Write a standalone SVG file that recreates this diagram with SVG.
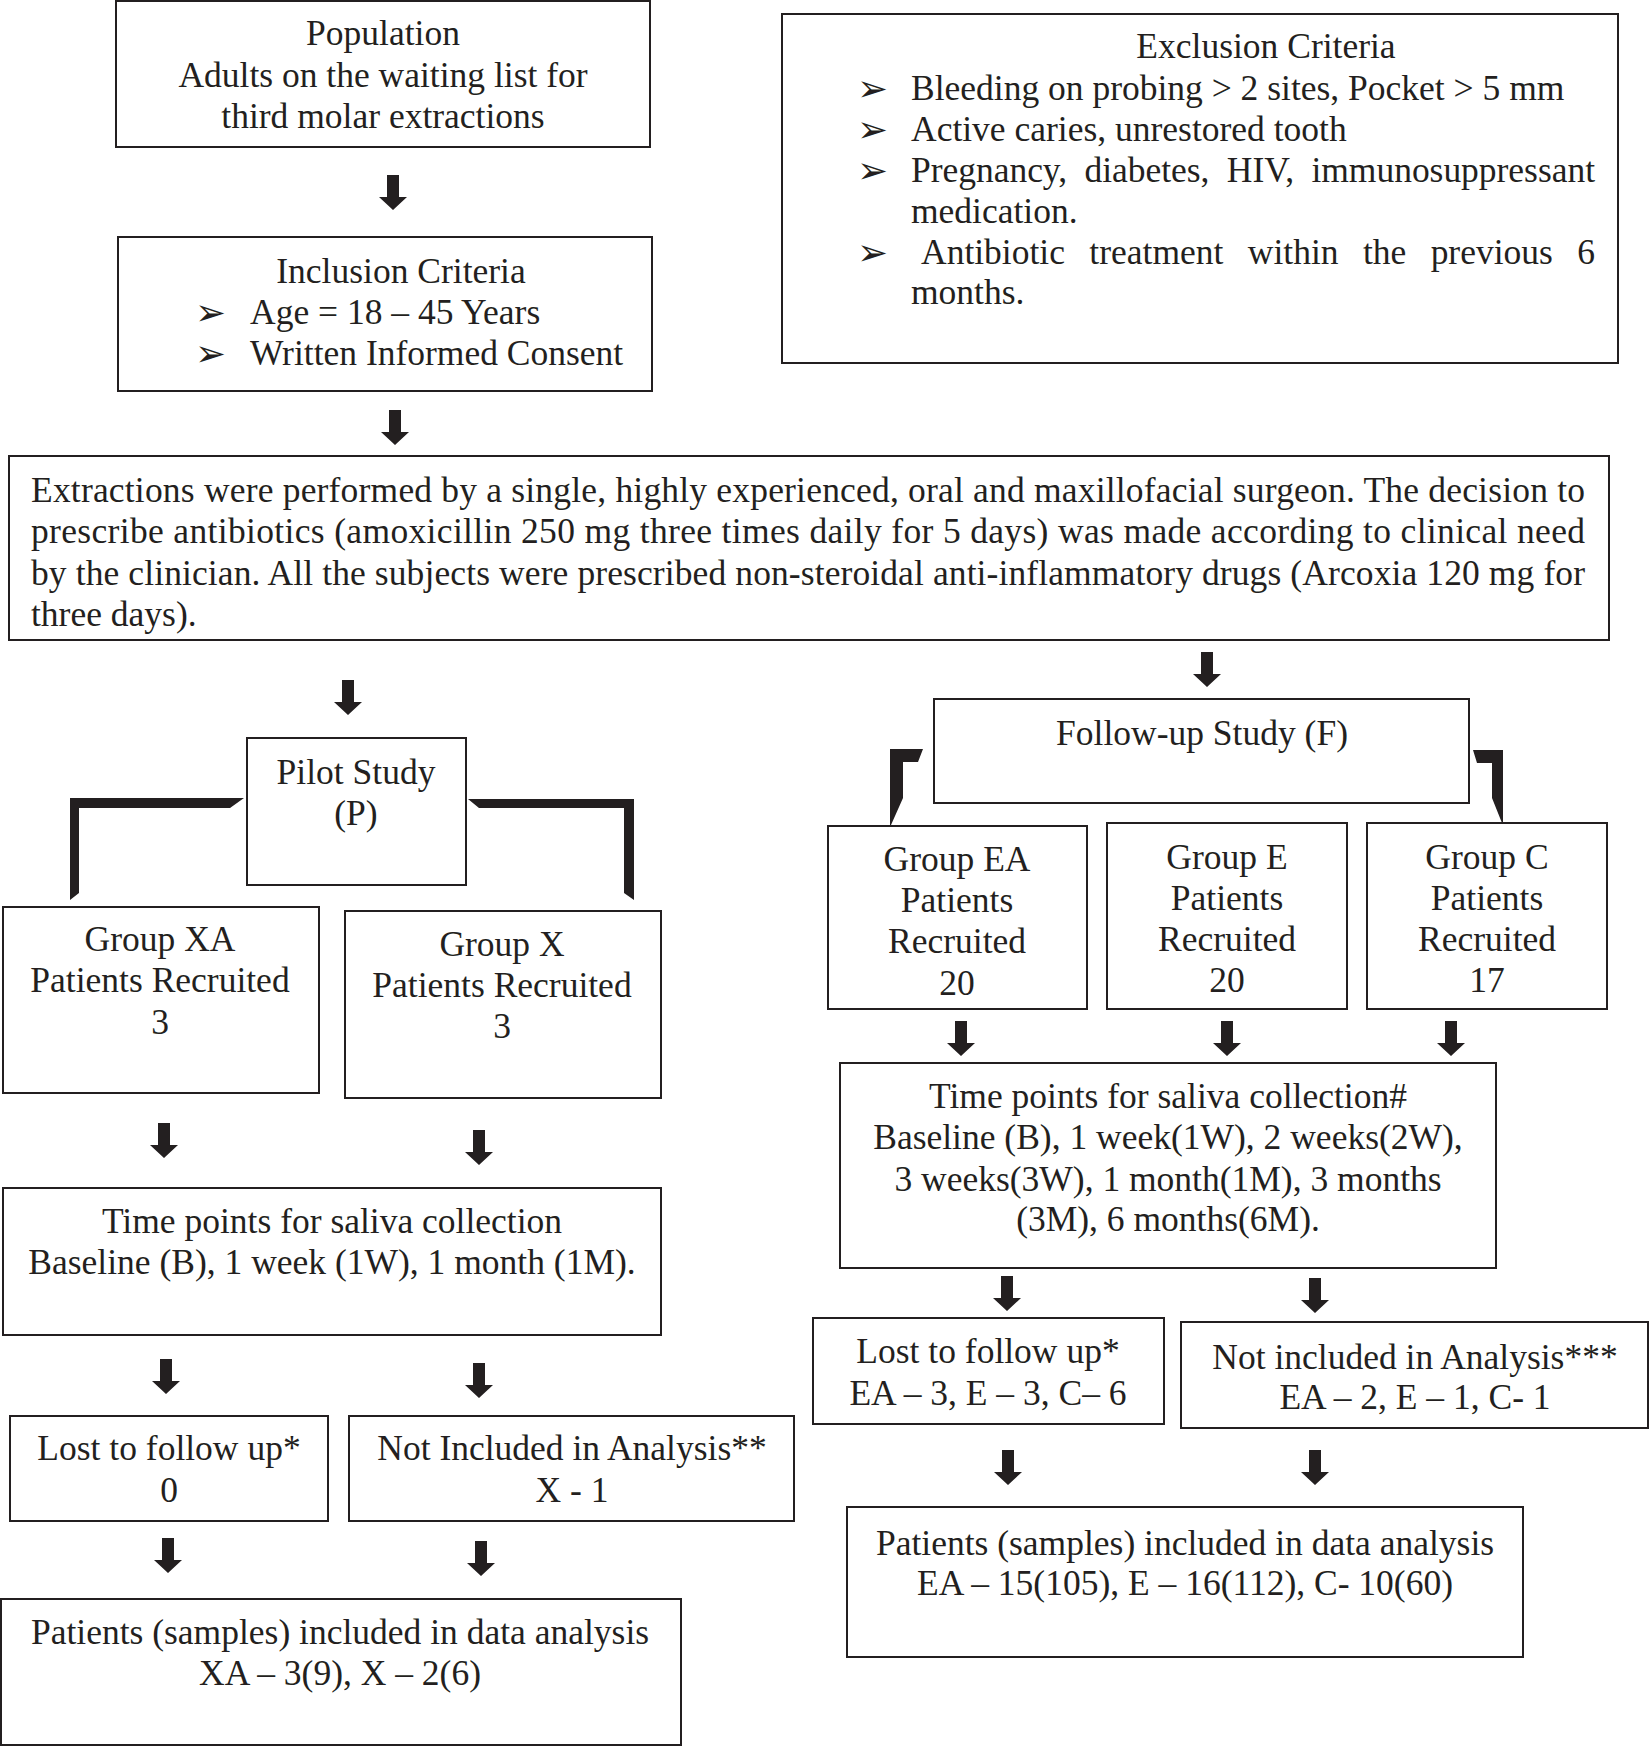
<svg xmlns="http://www.w3.org/2000/svg" xmlns:xlink="http://www.w3.org/1999/xlink" width="1650" height="1747" viewBox="0 0 1650 1747">
<style>
.box{fill:#fff;stroke:#231f20;stroke-width:2}
.t{font-family:"Liberation Serif","Times New Roman",serif;font-size:35.5px;fill:#231f20}
.c{text-anchor:middle}
.b{font-family:"DejaVu Sans",sans-serif;font-size:37px;fill:#231f20}
.k{fill:#231f20}
</style>
<defs>
<path id="arr" d="M-6,0 H6 V22 H14 L0,35 L-14,22 H-6 Z"/>
</defs>
<rect width="1650" height="1747" fill="#fff"/>

<g id="population">
<rect class="box" x="116" y="1" width="534" height="146"/>
<text class="t c" x="383" y="45">Population</text>
<text class="t c" x="383" y="87">Adults on the waiting list for</text>
<text class="t c" x="383" y="128">third molar extractions</text>
</g>

<g id="inclusion">
<rect class="box" x="118" y="237" width="534" height="154"/>
<text class="t c" x="401" y="283">Inclusion Criteria</text>
<text class="b" x="195" y="325">➢</text>
<text class="t" x="250" y="324">Age = 18 – 45 Years</text>
<text class="b" x="195" y="366">➢</text>
<text class="t" x="250" y="365">Written Informed Consent</text>
</g>

<g id="exclusion">
<rect class="box" x="782" y="14" width="836" height="349"/>
<text class="t c" x="1266" y="58">Exclusion Criteria</text>
<text class="b" x="857" y="101">➢</text>
<text class="t" x="911" y="100">Bleeding on probing &gt; 2 sites, Pocket &gt; 5 mm</text>
<text class="b" x="857" y="142">➢</text>
<text class="t" x="911" y="141">Active caries, unrestored tooth</text>
<text class="b" x="857" y="183">➢</text>
<text class="t" x="911" y="182" word-spacing="8.5" textLength="684" lengthAdjust="spacing">Pregnancy, diabetes, HIV, immunosuppressant</text>
<text class="t" x="911" y="223">medication.</text>
<text class="b" x="857" y="265">➢</text>
<text class="t" x="921" y="264" word-spacing="15.5" textLength="674" lengthAdjust="spacing">Antibiotic treatment within the previous 6</text>
<text class="t" x="911" y="304">months.</text>
</g>

<g id="extractions">
<rect class="box" x="9" y="456" width="1600" height="184"/>
<text class="t" x="31" y="502" textLength="1554" lengthAdjust="spacing">Extractions were performed by a single, highly experienced, oral and maxillofacial surgeon. The decision to</text>
<text class="t" x="31" y="543" textLength="1554" lengthAdjust="spacing">prescribe antibiotics (amoxicillin 250 mg three times daily for 5 days) was made according to clinical need</text>
<text class="t" x="31" y="585" textLength="1554" lengthAdjust="spacing">by the clinician. All the subjects were prescribed non-steroidal anti-inflammatory drugs (Arcoxia 120 mg for</text>
<text class="t" x="31" y="626">three days).</text>
</g>

<g id="pilot">
<rect class="box" x="247" y="738" width="219" height="147"/>
<text class="t c" x="356" y="784">Pilot Study</text>
<text class="t c" x="356" y="825">(P)</text>
</g>

<g id="groupXA">
<rect class="box" x="3" y="907" width="316" height="186"/>
<text class="t c" x="160" y="951">Group XA</text>
<text class="t c" x="160" y="992">Patients Recruited</text>
<text class="t c" x="160" y="1034">3</text>
</g>

<g id="groupX">
<rect class="box" x="345" y="911" width="316" height="187"/>
<text class="t c" x="502" y="956">Group X</text>
<text class="t c" x="502" y="997">Patients Recruited</text>
<text class="t c" x="502" y="1038">3</text>
</g>

<g id="timeLeft">
<rect class="box" x="3" y="1188" width="658" height="147"/>
<text class="t c" x="332" y="1233">Time points for saliva collection</text>
<text class="t c" x="332" y="1274">Baseline (B), 1 week (1W), 1 month (1M).</text>
</g>

<g id="lostLeft">
<rect class="box" x="10" y="1416" width="318" height="105"/>
<text class="t c" x="169" y="1460">Lost to follow up*</text>
<text class="t c" x="169" y="1502">0</text>
</g>

<g id="notIncLeft">
<rect class="box" x="349" y="1416" width="445" height="105"/>
<text class="t c" x="572" y="1460">Not Included in Analysis**</text>
<text class="t c" x="572" y="1502">X - 1</text>
</g>

<g id="patientsLeft">
<rect class="box" x="1" y="1599" width="680" height="146"/>
<text class="t c" x="340" y="1644">Patients (samples) included in data analysis</text>
<text class="t c" x="340" y="1685">XA – 3(9), X – 2(6)</text>
</g>

<g id="followup">
<rect class="box" x="934" y="699" width="535" height="104"/>
<text class="t c" x="1202" y="745">Follow-up Study (F)</text>
</g>

<g id="groupEA">
<rect class="box" x="828" y="826" width="259" height="183"/>
<text class="t c" x="957" y="871">Group EA</text>
<text class="t c" x="957" y="912">Patients</text>
<text class="t c" x="957" y="953">Recruited</text>
<text class="t c" x="957" y="995">20</text>
</g>

<g id="groupE">
<rect class="box" x="1107" y="823" width="240" height="186"/>
<text class="t c" x="1227" y="869">Group E</text>
<text class="t c" x="1227" y="910">Patients</text>
<text class="t c" x="1227" y="951">Recruited</text>
<text class="t c" x="1227" y="992">20</text>
</g>

<g id="groupC">
<rect class="box" x="1367" y="823" width="240" height="186"/>
<text class="t c" x="1487" y="869">Group C</text>
<text class="t c" x="1487" y="910">Patients</text>
<text class="t c" x="1487" y="951">Recruited</text>
<text class="t c" x="1487" y="992">17</text>
</g>

<g id="timeRight">
<rect class="box" x="840" y="1063" width="656" height="205"/>
<text class="t c" x="1168" y="1108">Time points for saliva collection#</text>
<text class="t c" x="1168" y="1149">Baseline (B), 1 week(1W), 2 weeks(2W),</text>
<text class="t c" x="1168" y="1191">3 weeks(3W), 1 month(1M), 3 months</text>
<text class="t c" x="1168" y="1231">(3M), 6 months(6M).</text>
</g>

<g id="lostRight">
<rect class="box" x="813" y="1318" width="351" height="106"/>
<text class="t c" x="988" y="1363">Lost to follow up*</text>
<text class="t c" x="988" y="1405">EA – 3, E – 3, C– 6</text>
</g>

<g id="notIncRight">
<rect class="box" x="1181" y="1322" width="467" height="106"/>
<text class="t c" x="1415" y="1369">Not included in Analysis***</text>
<text class="t c" x="1415" y="1409">EA – 2, E – 1, C- 1</text>
</g>

<g id="patientsRight">
<rect class="box" x="847" y="1507" width="676" height="150"/>
<text class="t c" x="1185" y="1555">Patients (samples) included in data analysis</text>
<text class="t c" x="1185" y="1595">EA – 15(105), E – 16(112), C- 10(60)</text>
</g>

<g id="connectors" class="k">
<use xlink:href="#arr" x="393" y="175"/>
<use xlink:href="#arr" x="395" y="410"/>
<use xlink:href="#arr" x="348" y="680"/>
<use xlink:href="#arr" x="1207" y="652"/>
<use xlink:href="#arr" x="164" y="1123"/>
<use xlink:href="#arr" x="479" y="1130"/>
<use xlink:href="#arr" x="166" y="1359"/>
<use xlink:href="#arr" x="479" y="1363"/>
<use xlink:href="#arr" x="168" y="1538"/>
<use xlink:href="#arr" x="481" y="1541"/>
<use xlink:href="#arr" x="961" y="1021"/>
<use xlink:href="#arr" x="1227" y="1021"/>
<use xlink:href="#arr" x="1451" y="1021"/>
<use xlink:href="#arr" x="1007" y="1276"/>
<use xlink:href="#arr" x="1315" y="1278"/>
<use xlink:href="#arr" x="1008" y="1450"/>
<use xlink:href="#arr" x="1315" y="1450"/>
<polygon points="70,798 244,798 230,808 79,808 79,893 70,900"/>
<polygon points="468,799 634,799 634,900 624,893 624,808 479,808"/>
<polygon points="890,749 923,749 918,762 903,762 903,798 891,825 890,825"/>
<polygon points="1473,750 1503,750 1503,823 1502,823 1492,798 1492,763 1477,763"/>
</g>
</svg>
